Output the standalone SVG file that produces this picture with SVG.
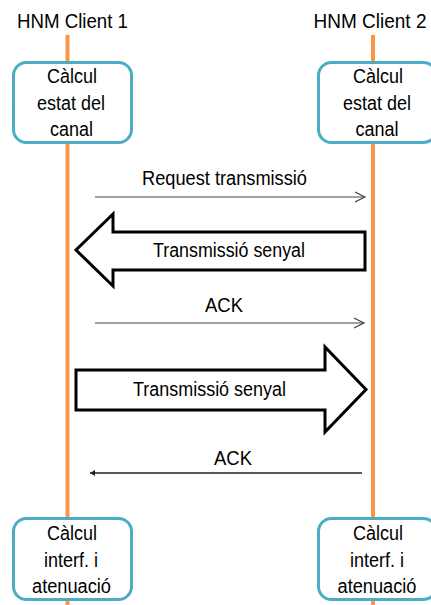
<svg xmlns="http://www.w3.org/2000/svg" width="431" height="605" viewBox="0 0 431 605">
<style>
text{font-family:"Liberation Sans",Arial,sans-serif;font-size:20px;fill:#000;text-anchor:middle}
.life{stroke:#F79646;stroke-width:4;fill:none}
.box{fill:#fff;stroke:#4BACC6;stroke-width:3}
.msg{stroke:#444;stroke-width:1.2;fill:none}
.msg2{stroke:#222;stroke-width:1.4;fill:none}
.big{fill:#fff;stroke:#000;stroke-width:3;stroke-linejoin:miter}
</style>
<defs>
<marker id="open" markerWidth="12" markerHeight="12" refX="10" refY="6" orient="auto" markerUnits="userSpaceOnUse">
<path d="M0,1 L10,6 L0,11" fill="none" stroke="#444" stroke-width="1.2"/>
</marker>
<marker id="small" markerWidth="6" markerHeight="6" refX="5" refY="3" orient="auto" markerUnits="userSpaceOnUse">
<path d="M0,0 L5,3 L0,6 Z" fill="#222"/>
</marker>
</defs>
<g id="lifelines">
<line class="life" x1="67.5" y1="35" x2="67.5" y2="605"/>
<line class="life" x1="373" y1="35" x2="373" y2="605"/>
</g>
<g id="client1">
<text x="72.5" y="28" textLength="111" lengthAdjust="spacingAndGlyphs">HNM Client 1</text>
</g>
<g id="client2">
<text x="370" y="28" textLength="113" lengthAdjust="spacingAndGlyphs">HNM Client 2</text>
</g>
<g id="calc1">
<rect class="box" x="13.5" y="62.5" width="118" height="80" rx="13"/>
<text x="72" y="83" textLength="50" lengthAdjust="spacingAndGlyphs">Càlcul</text>
<text x="71" y="110" textLength="68" lengthAdjust="spacingAndGlyphs">estat del</text>
<text x="71.5" y="136" textLength="43" lengthAdjust="spacingAndGlyphs">canal</text>
</g>
<g id="calc2">
<rect class="box" x="318.5" y="62.5" width="118" height="80" rx="13"/>
<text x="378" y="83" textLength="50" lengthAdjust="spacingAndGlyphs">Càlcul</text>
<text x="377" y="110" textLength="68" lengthAdjust="spacingAndGlyphs">estat del</text>
<text x="377" y="136" textLength="43" lengthAdjust="spacingAndGlyphs">canal</text>
</g>
<g id="interf1">
<rect class="box" x="13.5" y="518.5" width="118" height="81" rx="13"/>
<text x="72" y="540" textLength="50" lengthAdjust="spacingAndGlyphs">Càlcul</text>
<text x="71" y="566.5" textLength="54" lengthAdjust="spacingAndGlyphs">interf. i</text>
<text x="71.5" y="592.5" textLength="79" lengthAdjust="spacingAndGlyphs">atenuació</text>
</g>
<g id="interf2">
<rect class="box" x="318.5" y="518.5" width="118" height="81" rx="13"/>
<text x="378" y="540" textLength="50" lengthAdjust="spacingAndGlyphs">Càlcul</text>
<text x="377" y="566.5" textLength="54" lengthAdjust="spacingAndGlyphs">interf. i</text>
<text x="377" y="592.5" textLength="79" lengthAdjust="spacingAndGlyphs">atenuació</text>
</g>
<g id="connectors">
<line class="msg" x1="95" y1="197" x2="365" y2="197" marker-end="url(#open)"/>
<text x="224.5" y="185" textLength="165" lengthAdjust="spacingAndGlyphs">Request transmissió</text>
<polygon class="big" points="365,232 113,232 113,214 76,250 113,286 113,270 365,270"/>
<text x="229" y="257" textLength="152" lengthAdjust="spacingAndGlyphs">Transmissió senyal</text>
<line class="msg" x1="95" y1="323" x2="364" y2="323" marker-end="url(#open)"/>
<text x="224" y="312" textLength="38" lengthAdjust="spacingAndGlyphs">ACK</text>
<polygon class="big" points="76,370 325,370 325,347 366,389.5 325,432 325,410 76,410"/>
<text x="209.5" y="396" textLength="153" lengthAdjust="spacingAndGlyphs">Transmissió senyal</text>
<line class="msg2" x1="362" y1="473" x2="90" y2="473" marker-end="url(#small)"/>
<text x="233" y="465" textLength="38" lengthAdjust="spacingAndGlyphs">ACK</text>
</g>
</svg>
